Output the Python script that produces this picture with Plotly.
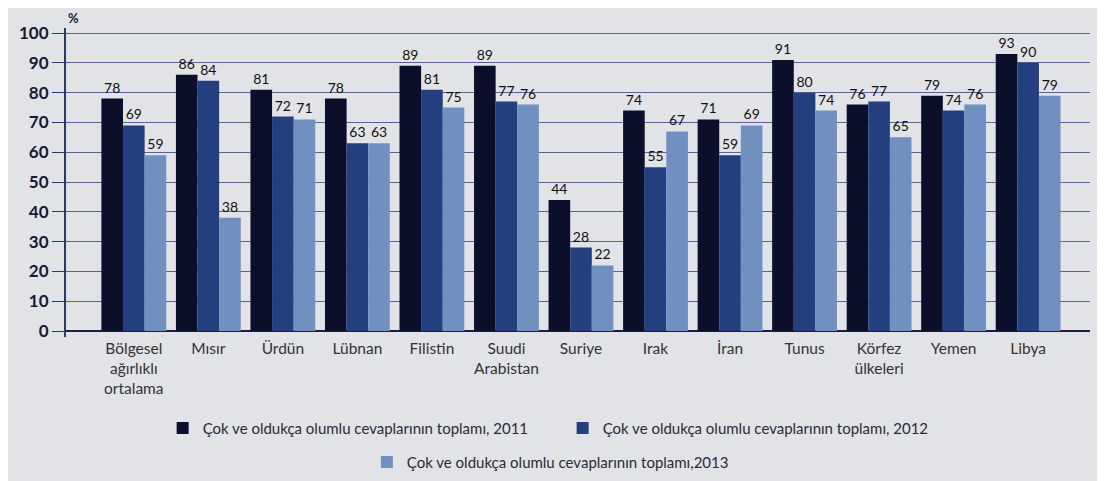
import plotly.graph_objects as go

categories = ["Bölgesel<br>ağırlıklı<br>ortalama", "Mısır", "Ürdün", "Lübnan", "Filistin",
              "Suudi<br>Arabistan", "Suriye", "Irak", "İran", "Tunus",
              "Körfez<br>ülkeleri", "Yemen", "Libya"]
values_2011 = [78, 86, 81, 78, 89, 89, 44, 74, 71, 91, 76, 79, 93]
values_2012 = [69, 84, 72, 63, 81, 77, 28, 55, 59, 80, 77, 74, 90]
values_2013 = [59, 38, 71, 63, 75, 76, 22, 67, 69, 74, 65, 76, 79]
series_names = ["Çok ve oldukça olumlu cevaplarının toplamı, 2011",
                "Çok ve oldukça olumlu cevaplarının toplamı, 2012",
                "Çok ve oldukça olumlu cevaplarının toplamı,2013"]
y_ticks = [0, 10, 20, 30, 40, 50, 60, 70, 80, 90, 100]

colors = ["#0b0f2a", "#243f80", "#7090c0"]
FONT = "Lato"

fig = go.Figure()
for vals, name, col, leg in zip([values_2011, values_2012, values_2013], series_names, colors,
                                ["legend", "legend", "legend2"]):
    fig.add_trace(go.Bar(
        x=categories, y=vals, name=name, marker=dict(color=col, line=dict(width=0)),
        text=[str(v) for v in vals], textposition="outside", cliponaxis=False,
        constraintext="none",
        textfont=dict(family=FONT, size=14, color="#111111"),
        legend=leg,
    ))

fig.update_layout(
    width=1097, height=473,
    paper_bgcolor="#e2e3e6", plot_bgcolor="rgba(0,0,0,0)",
    margin=dict(l=58, r=15, t=20, b=144, autoexpand=False),
    barmode="group", bargap=0.13, bargroupgap=0.0,
    font=dict(family=FONT, color="#222222"),
    legend=dict(orientation="h", x=0.485, xanchor="center", y=-0.295, yanchor="middle",
                font=dict(family=FONT, size=15, color="#2a2a3a"), bgcolor="rgba(0,0,0,0)",
                traceorder="normal", entrywidth=355),
    legend2=dict(orientation="h", x=0.473, xanchor="center", y=-0.405, yanchor="middle",
                 font=dict(family=FONT, size=15, color="#2a2a3a"), bgcolor="rgba(0,0,0,0)"),
    showlegend=True,
)
fig.update_yaxes(range=[-2, 101.7], tickvals=y_ticks, showgrid=True, gridcolor="#56648f",
                 gridwidth=1.2, zeroline=True, zerolinecolor="#1a1f3f", zerolinewidth=1.5,
                 showline=True, linecolor="#2c3a66", linewidth=2,
                 ticks="outside", ticklen=12, tickcolor="#2c3a66",
                 tickfont=dict(family=FONT, size=17, color="#151a35", weight="bold"))
fig.update_xaxes(range=[-0.91, 12.83], showline=False, ticks="",
                 tickfont=dict(family=FONT, size=15.5, color="#333333"))

fig.add_annotation(text="<b>%</b>", x=0, xref="paper", xanchor="left",
                   y=1.0, yref="paper", yanchor="bottom", showarrow=False,
                   font=dict(family=FONT, size=13, color="#151a35"))

fig.write_html("out.html")
